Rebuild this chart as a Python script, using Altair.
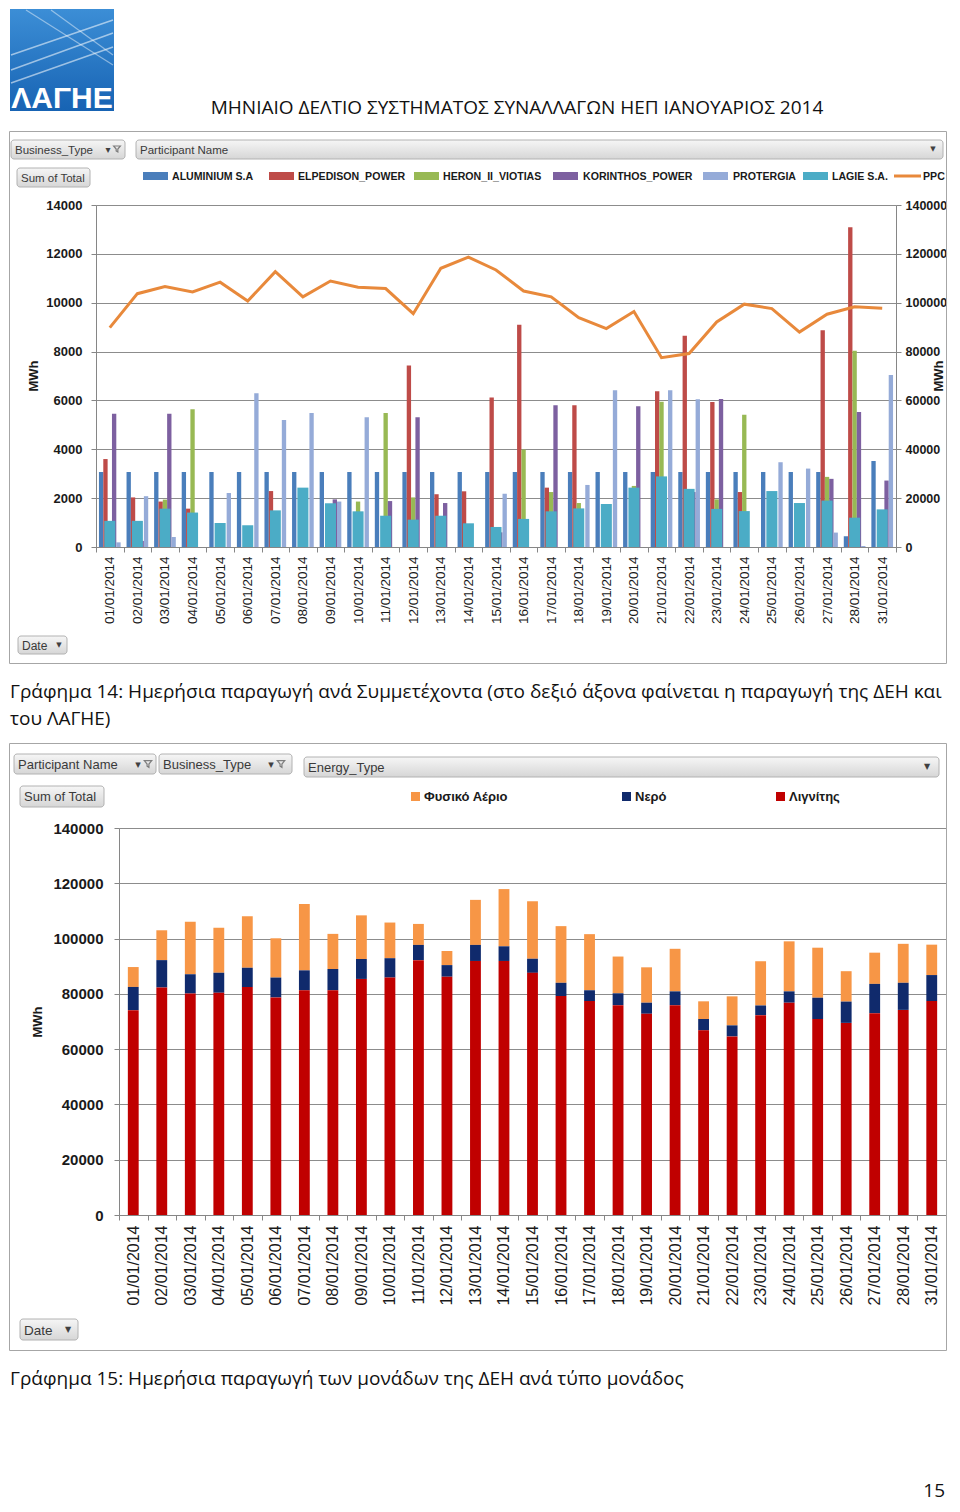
import altair as alt
import pandas as pd

# ---------------- data ----------------
dates = ["01/01/2014", "02/01/2014", "03/01/2014", "04/01/2014", "05/01/2014", "06/01/2014",
         "07/01/2014", "08/01/2014", "09/01/2014", "10/01/2014", "11/01/2014", "12/01/2014",
         "13/01/2014", "14/01/2014", "15/01/2014", "16/01/2014", "17/01/2014", "18/01/2014",
         "19/01/2014", "20/01/2014", "21/01/2014", "22/01/2014", "23/01/2014", "24/01/2014",
         "25/01/2014", "26/01/2014", "27/01/2014", "28/01/2014", "31/01/2014"]

participants = ["ALUMINIUM S.A", "ELPEDISON_POWER", "HERON_II_VIOTIAS", "KORINTHOS_POWER", "PROTERGIA"]
lagie_name = "LAGIE S.A."
ppc_name = "PPC"

aluminium = [3070, 3070, 3070, 3070, 3070, 3070, 3070, 3070, 3070, 3070, 3070, 3070, 3070, 3070, 3070,
             3070, 3070, 3070, 3070, 3070, 3070, 3070, 3070, 3070, 3070, 3070, 3070, 440, 3520]
elpedison = [3600, 2030, 1860, 1570, 0, 0, 2290, 0, 0, 0, 0, 7430, 2160, 2280, 6120,
             9100, 2430, 5800, 0, 0, 6380, 8650, 5940, 2250, 0, 0, 8870, 13090, 0]
heron = [0, 0, 1940, 5640, 0, 0, 0, 0, 0, 1860, 5490, 2030, 0, 0, 0,
         3990, 2250, 1800, 0, 2500, 5950, 0, 1950, 5410, 0, 0, 2870, 8030, 0]
korinthos = [5450, 250, 5450, 0, 0, 0, 0, 0, 1950, 0, 1880, 5310, 1800, 0, 600,
             0, 5800, 0, 0, 5760, 0, 2250, 6060, 0, 0, 0, 2790, 5530, 2720]
protergia = [190, 2080, 410, 0, 2210, 6290, 5200, 5490, 1860, 5310, 0, 0, 0, 0, 2180,
             0, 0, 2540, 6420, 0, 6420, 6050, 0, 0, 3470, 3210, 590, 40, 7040]
lagie = [1070, 1070, 1570, 1410, 980, 890, 1500, 2430, 1790, 1460, 1280, 1120, 1280, 970, 820,
         1150, 1460, 1580, 1760, 2430, 2890, 2380, 1560, 1470, 2290, 1800, 1900, 1200, 1540]
ppc = [89800, 103700, 106600, 104400, 108400, 100700, 112700, 102400, 108900, 106300, 105800, 95500,
       114100, 118700, 113400, 104800, 102400, 93900, 89400, 96400, 77500, 79200, 92100, 99400,
       97600, 88000, 95300, 98300, 97700]

energy_types = ["Φυσικό Αέριο", "Νερό", "Λιγνίτης"]
gas = [7200, 10800, 19000, 16300, 18700, 14200, 24000, 12700, 15800, 12900, 7600, 5100, 16300, 20700,
       20800, 20500, 20300, 13300, 12800, 15400, 6400, 10500, 16000, 18100, 18100, 11000, 11300, 14100, 11000]
hydro = [8400, 9900, 7000, 7200, 6900, 7200, 7200, 7700, 7200, 7000, 5500, 4200, 5800, 5300,
         5100, 4800, 3900, 4300, 4000, 5000, 4100, 4000, 3500, 4100, 7700, 7700, 10600, 9800, 9400]
lignite = [74100, 82300, 80100, 80400, 82500, 78700, 81300, 81300, 85400, 85900, 92200, 86200, 91900, 91900,
           87600, 79200, 77400, 75900, 72800, 75900, 66800, 64600, 72300, 76800, 70900, 69500, 73000, 74200, 77400]

left_ticks = [0, 2000, 4000, 6000, 8000, 10000, 12000, 14000]
right_ticks = [0, 20000, 40000, 60000, 80000, 100000, 120000, 140000]

header = "ΜΗΝΙΑΙΟ ΔΕΛΤΙΟ ΣΥΣΤΗΜΑΤΟΣ ΣΥΝΑΛΛΑΓΩΝ ΗΕΠ ΙΑΝΟΥΑΡΙΟΣ 2014"
caption1a = "Γράφημα 14: Ημερήσια παραγωγή ανά Συμμετέχοντα (στο δεξιό άξονα φαίνεται η παραγωγή της ΔΕΗ και"
caption1b = "του ΛΑΓΗΕ)"
caption2 = "Γράφημα 15: Ημερήσια παραγωγή των μονάδων της ΔΕΗ ανά τύπο μονάδος"
page_number = "15"

# ---------------- styles ----------------
part_colors = ["#4A7EBB", "#BE4B48", "#98B954", "#7D60A0", "#95ABD8"]
lagie_color = "#4BACC6"
ppc_color = "#E8893B"
energy_colors = ["#F79646", "#102A6C", "#C00000"]
AX = "#868686"
LBL = "#1a1a1a"

part_vals = [aluminium, elpedison, heron, korinthos, protergia]
df_part = pd.DataFrame([{"date": d, "participant": p, "mwh": v}
                        for p, vals in zip(participants, part_vals) for d, v in zip(dates, vals)])
df_lagie = pd.DataFrame({"date": dates, "mwh": lagie})
df_ppc = pd.DataFrame({"date": dates, "mwh": ppc})
en_vals = [gas, hydro, lignite]
df_en = pd.DataFrame([{"date": d, "energy": e, "mwh": v, "ord": 2 - i}
                      for i, (e, vals) in enumerate(zip(energy_types, en_vals)) for d, v in zip(dates, vals)])

ONE = pd.DataFrame({"k": [0]})


def text_at(label, x, y, size, color="#000000", weight="normal", font="Liberation Sans",
            align="left", baseline="alphabetic", angle=0):
    mk = dict(text=label, fontSize=size, color=color, fontWeight=weight, font=font,
              align=align, baseline=baseline)
    if angle:
        mk["angle"] = angle
    return alt.Chart(ONE).mark_text(**mk).encode(x=alt.value(x), y=alt.value(y))


def rect_at(x, y, x2, y2, **mk):
    return alt.Chart(ONE).mark_rect(**mk).encode(
        x=alt.value(x), y=alt.value(y), x2=alt.value(x2), y2=alt.value(y2))


def rule_at(x, y, x2, y2, **mk):
    return alt.Chart(ONE).mark_rule(**mk).encode(
        x=alt.value(x), y=alt.value(y), x2=alt.value(x2), y2=alt.value(y2))


BTN = alt.Gradient(gradient="linear",
                   stops=[alt.GradientStop(color="#F6F6F6", offset=0),
                          alt.GradientStop(color="#D6D6D6", offset=1)],
                   x1=0, x2=0, y1=0, y2=1)
LOGO = alt.Gradient(gradient="linear",
                    stops=[alt.GradientStop(color="#3C8ED6", offset=0),
                           alt.GradientStop(color="#1763B3", offset=1)],
                    x1=0, x2=0, y1=0, y2=1)
FUNNEL = "M-1,-0.9L1,-0.9L0.25,0L0.25,0.9L-0.25,0.6L-0.25,0Z"


def button(x, y, x2, y2):
    return rect_at(x, y, x2, y2, fill=BTN, stroke="#B2B2B2", strokeWidth=1, cornerRadius=3)


def funnel(x, y, size):
    return alt.Chart(ONE).mark_point(shape=FUNNEL, filled=False, stroke="#505050", strokeWidth=1.2,
                                     size=size).encode(x=alt.value(x), y=alt.value(y))


def arrow(x, y, size):
    return text_at("▼", x, y, size, color="#404040", font="DejaVu Sans", align="center", baseline="middle")


# ---------------- chart 1 ----------------
W1, H1 = 800, 342
x1 = alt.X("date:N", sort=dates, scale=alt.Scale(domain=dates, paddingInner=0, paddingOuter=0),
           axis=alt.Axis(title=None, labelAngle=-90, labelFontSize=13.5, labelColor=LBL,
                         labelFont="Liberation Sans", labelPadding=4, tickSize=5, tickBand="extent",
                         labelOverlap=False, domainColor=AX, tickColor=AX, grid=False))
yl = alt.Y("mwh:Q", scale=alt.Scale(domain=[0, 14000], nice=False),
           axis=alt.Axis(title=None, values=left_ticks, format="d", labelFontWeight="bold",
                         labelFontSize=13, labelColor=LBL, labelPadding=9, tickSize=5, grid=True,
                         gridColor="#8C8C8C", domainColor=AX, tickColor=AX, labelOverlap=False))
yr = alt.Y("mwh:Q", scale=alt.Scale(domain=[0, 140000], nice=False),
           axis=alt.Axis(title=None, orient="right", values=right_ticks, format="d",
                         labelFontWeight="bold", labelFontSize=12.5, labelColor=LBL, labelPadding=4,
                         tickSize=5, grid=False, domainColor=AX, tickColor=AX, labelOverlap=False))

bars1 = alt.Chart(df_part).mark_bar().encode(
    x=x1,
    xOffset=alt.XOffset("participant:N", sort=participants,
                        scale=alt.Scale(domain=participants, paddingInner=0, paddingOuter=0.68)),
    y=yl,
    color=alt.Color("participant:N", scale=alt.Scale(domain=participants, range=part_colors), legend=None),
)
lag1 = alt.Chart(df_lagie).mark_bar(width=alt.RelativeBandSize(0.4), color=lagie_color).encode(x=x1, y=yl)
line1 = alt.Chart(df_ppc).mark_line(color=ppc_color, strokeWidth=3).encode(x=x1, y=yr)
plot1 = alt.layer(alt.layer(bars1, lag1), line1).resolve_scale(y="independent")

RIGHT = 850.5  # right frame edge (chart-1 coordinates)

deco1 = [
    rect_at(-86.5, -73.5, RIGHT, 458.5, fill="white", fillOpacity=0, stroke="#A6A6A6", strokeWidth=1),
    rect_at(-86, -196, 18, -94, fill=LOGO),
    rule_at(-85, -150, 17, -185, stroke="white", strokeWidth=1.5, opacity=0.55),
    rule_at(-85, -135, 17, -172, stroke="white", strokeWidth=1.5, opacity=0.55),
    rule_at(-85, -122, 17, -158, stroke="white", strokeWidth=1.5, opacity=0.55),
    rule_at(-70, -195, 17, -140, stroke="white", strokeWidth=1.2, opacity=0.45),
    rule_at(-45, -195, 17, -150, stroke="white", strokeWidth=1.2, opacity=0.45),
    text_at("ΛΑΓΗΕ", -34, -97, 30, color="white", weight="bold", align="center"),
    text_at(header, 421, -91, 19, color="#111111", font="Open Sans", align="center"),
    button(-85, -65, 29, -46),
    text_at("Business_Type", -81, -51, 11.5, color="#3a3a3a"),
    text_at("▾", 12, -52, 10, color="#404040", font="DejaVu Sans", align="center"),
    funnel(21, -56, 45),
    button(40, -65, 847, -46),
    text_at("Participant Name", 44, -51, 11.5, color="#3a3a3a"),
    arrow(837, -56, 7),
    button(-79, -37, -6, -18),
    text_at("Sum of Total", -75, -23, 11.5, color="#3a3a3a"),
    text_at("MWh", -62, 171, 13, color=LBL, weight="bold", align="center", baseline="middle", angle=270),
    text_at("MWh", 843, 171, 13, color=LBL, weight="bold", align="center", baseline="middle", angle=270),
    button(-78, 431, -29, 449),
    text_at("Date", -74, 445, 12, color="#3a3a3a"),
    arrow(-37, 440, 7),
    text_at(caption1a, -86, 493, 19, color="#111111", font="Open Sans"),
    text_at(caption1b, -86, 520, 19, color="#111111", font="Open Sans"),
]
leg_sw_x = [47, 173, 318, 457, 607, 707]
leg_tx_x = [76, 202, 347, 487, 637, 736]
leg_names = participants + [lagie_name]
leg_cols = part_colors + [lagie_color]
for sx, tx, nm, col in zip(leg_sw_x, leg_tx_x, leg_names, leg_cols):
    deco1.append(rect_at(sx, -33, sx + 25, -25, fill=col))
    deco1.append(text_at(nm, tx, -25, 10.6, color=LBL, weight="bold"))
deco1.append(rule_at(798, -29, 825, -29, stroke=ppc_color, strokeWidth=3))
deco1.append(text_at(ppc_name, 827, -25, 10.6, color=LBL, weight="bold"))

chart1 = alt.layer(plot1, *deco1).properties(width=W1, height=H1)

# ---------------- chart 2 ----------------
W2, H2 = 827, 387
x2 = alt.X("date:N", sort=dates, scale=alt.Scale(domain=dates, paddingInner=0, paddingOuter=0),
           axis=alt.Axis(title=None, labelAngle=-90, labelFontSize=16, labelColor=LBL,
                         labelFont="Liberation Sans", labelPadding=5, tickSize=5, tickBand="extent",
                         labelOverlap=False, domainColor=AX, tickColor=AX, grid=False))
y2 = alt.Y("mwh:Q", stack="zero", scale=alt.Scale(domain=[0, 140000], nice=False),
           axis=alt.Axis(title=None, values=right_ticks, format="d", labelFontWeight="bold",
                         labelFontSize=15, labelColor=LBL, labelPadding=11, tickSize=5, grid=True,
                         gridColor="#8C8C8C", domainColor=AX, tickColor=AX, labelOverlap=False))
bars2 = alt.Chart(df_en).mark_bar(width=alt.RelativeBandSize(0.38)).encode(
    x=x2, y=y2,
    color=alt.Color("energy:N", scale=alt.Scale(domain=energy_types, range=energy_colors), legend=None),
    order=alt.Order("ord:Q", sort="ascending"),
)

R2 = RIGHT - 23
deco2 = [
    rect_at(-109.5, -84.5, R2, 522.5, fill="white", fillOpacity=0, stroke="#A6A6A6", strokeWidth=1),
    button(-105, -74, 37, -54),
    text_at("Participant Name", -101, -59, 13, color="#3a3a3a"),
    text_at("▾", 19, -60, 11, color="#404040", font="DejaVu Sans", align="center"),
    funnel(29, -64, 55),
    button(40, -74, 173, -54),
    text_at("Business_Type", 44, -59, 13, color="#3a3a3a"),
    text_at("▾", 152, -60, 11, color="#404040", font="DejaVu Sans", align="center"),
    funnel(162, -64, 55),
    button(185, -71, 820, -51),
    text_at("Energy_Type", 189, -56, 13, color="#3a3a3a"),
    arrow(808, -61, 8),
    button(-99, -42, -15, -21),
    text_at("Sum of Total", -95, -27, 13, color="#3a3a3a"),
    text_at("MWh", -81, 194, 13, color=LBL, weight="bold", align="center", baseline="middle", angle=270),
    button(-99, 491, -41, 512),
    text_at("Date", -95, 507, 13.5, color="#3a3a3a"),
    arrow(-51, 502, 8),
    text_at(caption2, -109, 557, 19, color="#111111", font="Open Sans"),
    text_at(page_number, 826, 669, 19, color="#111111", font="Open Sans", align="right"),
]
for sx, nm, col in zip([292, 503, 657], energy_types, energy_colors):
    deco2.append(rect_at(sx, -36, sx + 9, -27, fill=col))
    deco2.append(text_at(nm, sx + 13, -27, 13, color=LBL, weight="bold"))

chart2 = alt.layer(bars2, *deco2).properties(width=W2, height=H2)

spacer = alt.Chart(ONE).mark_point(opacity=0, size=1).encode(x=alt.value(0), y=alt.value(0)).properties(
    width=1, height=1, view=alt.ViewBackground(stroke="transparent"))
row2 = alt.hconcat(spacer, chart2, spacing=22, bounds="flush")

page = alt.vconcat(chart1, row2, spacing=281, bounds="flush").resolve_scale(
    color="independent").properties(padding=0).configure_view(
    stroke=AX, strokeWidth=1).configure(font="Liberation Sans")

page.save("out.html", embed_options={"renderer": "svg", "actions": False})
